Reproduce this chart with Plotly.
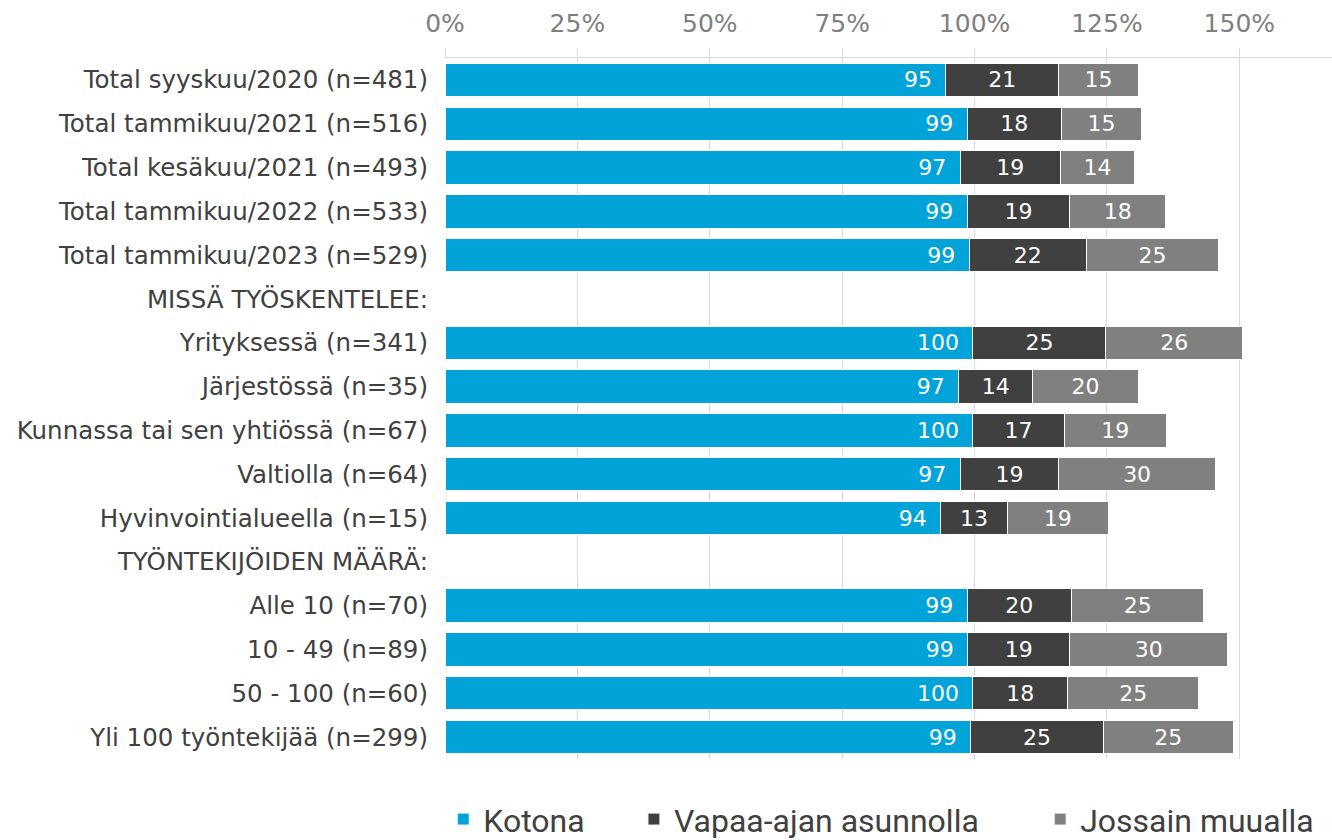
import plotly.graph_objects as go

categories = [
    "Total syyskuu/2020 (n=481)",
    "Total tammikuu/2021 (n=516)",
    "Total kesäkuu/2021 (n=493)",
    "Total tammikuu/2022 (n=533)",
    "Total tammikuu/2023 (n=529)",
    "MISSÄ TYÖSKENTELEE:",
    "Yrityksessä (n=341)",
    "Järjestössä (n=35)",
    "Kunnassa tai sen yhtiössä (n=67)",
    "Valtiolla (n=64)",
    "Hyvinvointialueella (n=15)",
    "TYÖNTEKIJÖIDEN MÄÄRÄ:",
    "Alle 10 (n=70)",
    "10 - 49 (n=89)",
    "50 - 100 (n=60)",
    "Yli 100 työntekijää (n=299)",
]

kotona = [94.6, 98.6, 97.3, 98.6, 99.0, None, 99.7, 97.0, 99.7, 97.3, 93.6, None, 98.6, 98.7, 99.7, 99.3]
vapaa = [21.3, 17.8, 18.9, 19.4, 22.1, None, 25.1, 14.0, 17.2, 18.6, 12.6, None, 19.7, 19.3, 17.9, 25.0]
muualla = [15.0, 15.1, 14.0, 18.1, 25.0, None, 25.8, 19.9, 19.3, 29.6, 19.0, None, 25.0, 29.8, 24.7, 24.6]

series_names = ["Kotona", "Vapaa-ajan asunnolla", "Jossain muualla"]
colors = ["#02A3D9", "#404040", "#808080"]
tick_vals = [0, 25, 50, 75, 100, 125, 150]

FONT = "DejaVu Sans, Verdana, sans-serif"
LEG_FONT = "Roboto, DejaVu Sans, sans-serif"


def labels(vals):
    return ["" if v is None else f"{v:.0f}" for v in vals]


fig = go.Figure()
for i, (name, vals, col) in enumerate(zip(series_names, [kotona, vapaa, muualla], colors)):
    fig.add_trace(go.Bar(
        y=categories,
        x=vals,
        name=name,
        orientation="h",
        marker=dict(color=col, line=dict(color="white", width=1)),
        text=labels(vals),
        texttemplate="%{text}\u2002" if i == 0 else "%{text}",
        textposition="inside",
        insidetextanchor="end" if i == 0 else "middle",
        textangle=0,
        textfont=dict(color="white", size=22, family=FONT),
        hoverinfo="skip",
        showlegend=True,
        legend="legend" if i == 0 else f"legend{i + 1}",
    ))

leg_common = dict(
    orientation="h",
    xanchor="left",
    yanchor="middle",
    y=-0.086,
    font=dict(size=32, family=LEG_FONT, color="#404040"),
    bgcolor="rgba(0,0,0,0)",
    itemwidth=30,
)

fig.update_layout(
    width=1332,
    height=840,
    barmode="stack",
    bargap=0.238,
    showlegend=True,
    plot_bgcolor="white",
    paper_bgcolor="white",
    font=dict(family=FONT, color="#404040"),
    margin=dict(l=445, r=0, t=58, b=81, autoexpand=False),
    legend=dict(x=-0.002, **leg_common),
    legend2=dict(x=0.213, **leg_common),
    legend3=dict(x=0.671, **leg_common),
    xaxis=dict(
        side="top",
        range=[0, 167.5],
        tickvals=tick_vals,
        ticktext=[f"{v}%" for v in tick_vals],
        showgrid=True,
        gridcolor="#D9D9D9",
        gridwidth=1,
        zeroline=False,
        showline=True,
        linecolor="#D9D9D9",
        linewidth=1,
        ticks="outside",
        ticklen=9,
        tickcolor="#D9D9D9",
        ticklabelstandoff=6,
        tickfont=dict(size=25, color="#7F7F7F", family=FONT),
        fixedrange=True,
    ),
    yaxis=dict(
        categoryorder="array",
        categoryarray=categories,
        autorange="reversed",
        showgrid=False,
        showline=False,
        zeroline=False,
        ticks="",
        ticklabelstandoff=16,
        tickfont=dict(size=24.5, color="#404040", family=FONT),
        fixedrange=True,
    ),
)

fig.write_html(
    "out.html",
    config={"displayModeBar": False},
    post_script="document.body.style.margin='0';document.body.style.overflow='hidden';",
)
